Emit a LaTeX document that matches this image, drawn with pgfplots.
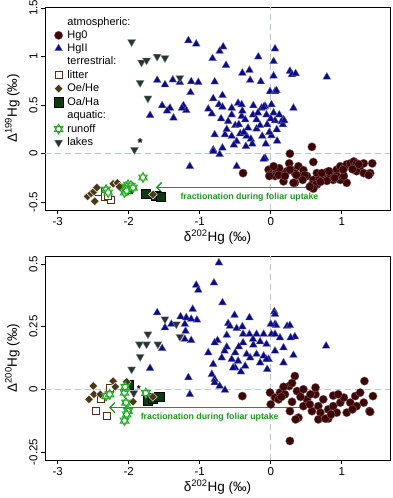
\documentclass[border=0pt]{standalone}
\usepackage{pgfplots}
\pgfplotsset{compat=1.18}
\usepackage{fontspec}
\setmainfont{Liberation Sans}
\usetikzlibrary{arrows.meta}
\definecolor{hgzero}{HTML}{3E0606}
\definecolor{hgtwo}{HTML}{0A0A8C}
\definecolor{lakec}{HTML}{263434}
\definecolor{oehe}{HTML}{4A3915}
\definecolor{oaha}{HTML}{0E3A12}
\definecolor{litterc}{HTML}{5A2C1A}
\definecolor{runc}{HTML}{1FAA1F}
\definecolor{arrc}{HTML}{1A9A1A}
\definecolor{dashc}{HTML}{B4C8D6}
\pgfdeclareplotmark{hexagram}{%
  \pgfpathmoveto{\pgfqpointpolar{90}{\pgfplotmarksize}}%
  \pgfpathlineto{\pgfqpointpolar{210}{\pgfplotmarksize}}%
  \pgfpathlineto{\pgfqpointpolar{330}{\pgfplotmarksize}}%
  \pgfpathclose
  \pgfpathmoveto{\pgfqpointpolar{270}{\pgfplotmarksize}}%
  \pgfpathlineto{\pgfqpointpolar{30}{\pgfplotmarksize}}%
  \pgfpathlineto{\pgfqpointpolar{150}{\pgfplotmarksize}}%
  \pgfpathclose
  \pgfusepathqfillstroke}

\pgfplotsset{
  myleg/.style={legend image code/.code={\path[draw=none,fill=none] (0cm,0cm) -- (0.46cm,0cm); \draw[mark repeat=2,mark phase=2,##1] plot coordinates {(0.12cm,0cm) (0.22cm,0cm) (0.32cm,0cm)};}},
  hgzs/.style={only marks, myleg, mark=*, mark size=4.2pt, mark options={fill=hgzero, draw=hgzero!60!white, line width=0.3pt}},
  hgts/.style={only marks, myleg, mark=triangle*, mark size=4.5pt, mark options={fill=hgtwo, draw=hgtwo!60!white, line width=0.3pt}},
  lakes/.style={only marks, myleg, mark=triangle*, mark size=4.7pt, mark options={rotate=180, fill=lakec, draw=lakec!50!white, line width=0.3pt}},
  litters/.style={only marks, myleg, mark=square*, mark size=3.6pt, mark options={fill=white, draw=litterc, line width=0.9pt}},
  oehes/.style={only marks, myleg, mark=square*, mark size=3.1pt, mark options={rotate=45, fill=oehe, draw=white, line width=0.4pt}},
  oahas/.style={only marks, myleg, mark=square*, mark size=4.6pt, mark options={fill=oaha, draw=black, line width=0.4pt}},
  runs/.style={only marks, myleg, mark=hexagram, mark size=5pt, mark options={fill=white, draw=runc, line width=0.9pt}},
  myaxis/.style={
    scale only axis, width=345pt,
    xmin=-3.18, xmax=1.68,
    xtick={-3,-2,-1,0,1},
    tick align=outside, xtick pos=bottom, ytick pos=left,
    major tick length=4pt,
    tick style={black, line width=0.6pt},
    axis line style={black, line width=0.9pt},
    /pgf/number format/assume math mode=true,
    ticklabel style={font=\fontsize{11.5}{13}\selectfont},
    yticklabel style={rotate=90, anchor=south},
    label style={font=\fontsize{13.5}{15}\selectfont},
    xlabel={δ\textsuperscript{202}Hg (‰)},
    xlabel style={at={(axis description cs:0.5,-0.08)}, anchor=north},
    ylabel style={at={(axis description cs:-0.063,0.5)}, anchor=south},
    clip=true,
  },
}

\begin{document}
\begin{tikzpicture}
\begin{axis}[myaxis, name=top, anchor=north west, at={(0pt,0pt)},
  height=203pt, ymin=-0.58, ymax=1.51,
  ytick={-0.5,0,0.5,1,1.5},
  ylabel={Δ\textsuperscript{199}Hg (‰)},
  legend cell align=left,
  legend style={draw=none, fill=none, at={(0.012,0.97)}, anchor=north west,
    font=\fontsize{11}{12}\selectfont, row sep=0pt},
]
\draw[dashc, dashed, dash pattern=on 6pt off 4pt, line width=0.9pt] (axis cs:0,-0.58) -- (axis cs:0,1.51);
\draw[dashc, dashed, dash pattern=on 6pt off 4pt, line width=0.9pt] (axis cs:-3.18,0) -- (axis cs:1.68,0);

\addplot[hgzs, forget plot] coordinates {
(-0.39,-0.20) (0.27,0.0) (0.58,0.07) (0.60,-0.086) (0.26,-0.10) (-0.03,-0.165)
(-0.01,-0.216) (0.085,-0.18) (0.155,-0.20) (0.23,-0.18) (0.30,-0.17) (0.39,-0.13)
(0.46,-0.17) (0.41,-0.23) (0.34,-0.30) (0.51,-0.23) (0.60,-0.27) (0.65,-0.20)
(0.68,-0.27) (0.74,-0.23) (0.79,-0.19) (0.84,-0.23) (0.88,-0.20) (0.93,-0.165)
(0.98,-0.13) (1.03,-0.15) (1.07,-0.11) (1.12,-0.10) (1.17,-0.08) (1.21,-0.10)
(1.26,-0.13) (1.31,-0.10) (1.43,-0.10) (1.21,-0.18) (1.31,-0.20) (1.40,-0.20)
(1.07,-0.30) (0.98,-0.27) (0.88,-0.27) (0.79,-0.28) (0.93,-0.23) (1.03,-0.23)
(0.65,-0.32) (0.58,-0.32) (0.12,-0.15) (0.34,-0.20) (0.06,-0.23) (0.27,-0.165)
(0.36,-0.22) (0.48,-0.22) (0.63,-0.32) (0.72,-0.20) (0.82,-0.18) (1.02,-0.165)
(1.24,-0.11) (1.38,-0.22) (0.70,-0.29) (0.32,-0.30) (0.04,-0.13) (-0.02,-0.23)
(0.18,-0.285) (0.11,-0.22) (0.20,-0.23) (0.60,-0.36) (0.55,-0.34) (0.90,-0.25)
(1.15,-0.16) (0.45,-0.27)
};
\addplot[hgts, forget plot] coordinates {
(-1.16,1.165) (-1.05,1.13) (-0.67,1.10) (-0.72,1.055) (-0.82,0.98) (-0.175,0.997)
(-0.63,0.91) (0.06,1.08) (0.04,0.95) (-0.40,0.83) (-0.30,0.86) (-0.29,0.756)
(-0.14,0.742) (-0.79,0.74) (-1.60,0.756) (-1.49,0.71) (-1.38,0.76) (-1.28,0.735)
(-1.12,0.742) (-1.02,0.735) (-1.13,0.63) (-0.81,0.567) (-0.68,0.60) (-1.53,0.495)
(-1.42,0.47) (-1.46,0.44) (-1.70,0.395) (-1.37,0.368) (-1.23,0.495) (-1.19,0.446)
(-1.25,0.47) (-0.88,0.46) (-0.83,0.41) (-0.73,0.505) (-0.68,0.48) (-0.55,0.47)
(-0.46,0.52) (-0.41,0.505) (-0.245,0.495) (-0.13,0.47) (-0.08,0.49) (-0.60,0.333)
(-0.50,0.29) (-0.41,0.385) (-0.36,0.35) (-0.32,0.265) (-0.20,0.255) (-0.15,0.29)
(-0.645,0.196) (-0.43,0.206) (-0.34,0.18) (-0.79,0.196) (-0.48,0.127) (-0.35,0.076)
(-0.07,0.10) (-0.81,0.04) (-0.72,-0.007) (-0.68,0.059) (-0.08,-0.045) (-1.14,-0.13)
(-0.48,-0.13) (0.04,0.80) (0.27,0.85) (0.30,0.815) (0.35,0.825) (0.79,0.79)
(-0.01,0.64) (0.06,0.64) (0.32,0.47) (0.01,0.505) (0.04,0.42) (-0.06,0.40)
(0.18,0.35) (0.15,0.33) (0.085,0.247) (0.17,0.30) (-0.10,0.48) (0.08,0.65)
(0.06,0.34) (0.19,0.34) (0.09,0.13) (0.01,0.186) (-0.10,-0.055) (-0.81,0.024)
(-0.55,0.40) (-0.45,0.30) (-0.25,0.40) (-0.20,0.35) (-0.38,0.22) (-0.28,0.15)
(-0.55,0.18) (-0.62,0.25) (-0.05,0.30) (0.0,0.36) (-0.12,0.18) (-0.52,0.09)
(-0.18,0.42) (-0.02,0.22) (-0.40,0.44) (-0.70,0.36) (-0.26,0.10) (0.12,0.40)
};
\addplot[lakes, forget plot] coordinates {
(-1.96,1.15) (-1.60,1.00) (-1.49,0.985) (-1.82,0.94) (-1.75,0.96) (-1.28,0.78)
(-1.84,0.73) (-1.73,0.57) (-1.92,0.04)
};
\addplot[litters, forget plot] coordinates {
(-2.43,-0.39) (-2.34,-0.44) (-2.25,-0.475) (-2.29,-0.43)
};
\addplot[oahas, forget plot] coordinates {
(-2.02,-0.36) (-1.76,-0.41) (-1.62,-0.43) (-1.55,-0.44)
};
\addplot[oehes, forget plot] coordinates {
(-2.58,-0.44) (-2.53,-0.41) (-2.49,-0.39) (-2.45,-0.35) (-2.48,-0.49) (-2.22,-0.31)
(-2.16,-0.30) (-2.13,-0.34) (-1.66,-0.42)
};
\addplot[runs, forget plot] coordinates {
(-2.32,-0.37) (-2.29,-0.40) (-2.06,-0.40) (-2.04,-0.34) (-2.01,-0.32) (-1.97,-0.33)
(-2.03,-0.38) (-1.94,-0.35) (-1.80,-0.245)
};
\node[font=\fontsize{13}{13}\selectfont\bfseries] at (axis cs:-1.84,0.11) {*};
\draw[arrc, line width=1.6pt, -{Straight Barb[length=5pt,width=10pt,line width=1.4pt]}] (axis cs:0.70,-0.347) -- (axis cs:-1.62,-0.347);
\node[text=arrc, font=\fontsize{8.8}{10}\selectfont\bfseries] at (axis cs:-0.30,-0.447) {fractionation during foliar uptake};

\addlegendimage{empty legend}\addlegendentry{atmospheric:}
\addlegendimage{hgzs}\addlegendentry{Hg0}
\addlegendimage{hgts}\addlegendentry{HgII}
\addlegendimage{empty legend}\addlegendentry{terrestrial:}
\addlegendimage{litters}\addlegendentry{litter}
\addlegendimage{oehes}\addlegendentry{Oe/He}
\addlegendimage{oahas}\addlegendentry{Oa/Ha}
\addlegendimage{empty legend}\addlegendentry{aquatic:}
\addlegendimage{runs}\addlegendentry{runoff}
\addlegendimage{lakes}\addlegendentry{lakes}
\end{axis}

\begin{axis}[myaxis, name=bot, anchor=north west, at={(0pt,-249pt)},
  height=204pt, ymin=-0.282, ymax=0.532,
  ytick={-0.25,0,0.25,0.5},
  ylabel={Δ\textsuperscript{200}Hg (‰)},
]
\draw[dashc, dashed, dash pattern=on 6pt off 4pt, line width=0.9pt] (axis cs:0,-0.282) -- (axis cs:0,0.532);
\draw[dashc, dashed, dash pattern=on 6pt off 4pt, line width=0.9pt] (axis cs:-3.18,0) -- (axis cs:1.68,0);

\addplot[hgzs] coordinates {
(0.34,0.053) (-0.40,-0.027) (1.32,0.033) (1.44,-0.027) (0.27,-0.206) (-0.01,-0.013)
(0.06,-0.033) (0.13,-0.013) (0.20,-0.02) (0.26,0.013) (0.37,-0.007) (0.46,0.0)
(0.63,-0.02) (0.51,-0.04) (0.46,-0.067) (0.27,-0.087) (0.39,-0.113) (0.58,-0.087)
(0.67,-0.067) (0.74,-0.04) (0.81,-0.08) (0.88,-0.067) (0.88,-0.025) (0.98,-0.053)
(1.03,-0.033) (1.12,-0.053) (1.19,-0.027) (1.26,-0.013) (1.31,-0.053) (1.39,-0.087)
(0.81,-0.117) (0.93,-0.093) (0.70,-0.093) (0.63,0.007) (0.11,-0.04) (0.56,-0.02)
(1.07,-0.093) (1.21,-0.067) (1.40,-0.09) (0.67,-0.12) (0.77,-0.117) (0.00,-0.06)
(0.15,-0.03) (0.30,-0.05) (0.42,-0.03) (0.55,-0.06) (0.95,-0.02) (1.15,-0.08)
(0.85,-0.10) (0.30,0.025) (0.18,0.01) (0.35,-0.12)
};
\addplot[hgts] coordinates {
(-0.73,0.505) (-0.80,0.425) (-1.05,0.416) (-1.02,0.396) (-0.68,0.346) (-1.10,0.32)
(-1.60,0.306) (-1.27,0.29) (-1.19,0.286) (-1.04,0.277) (-1.40,0.26) (-0.51,0.296)
(-0.30,0.286) (0.05,0.31) (0.06,0.30) (-0.60,0.263) (-1.49,0.246) (-0.575,0.252)
(-0.48,0.243) (0.06,0.26) (0.23,0.252) (-1.20,0.232) (-0.62,0.216) (-0.39,0.22)
(-0.30,0.22) (-0.20,0.22) (-0.10,0.22) (0.01,0.22) (0.06,0.22) (0.13,0.206)
(-1.21,0.20) (-1.12,0.195) (-0.75,0.195) (-0.62,0.169) (-0.39,0.186) (-0.245,0.177)
(-0.06,0.18) (0.18,0.166) (-0.79,0.186) (-1.53,0.163) (-0.88,0.146) (-0.65,0.153)
(-0.50,0.146) (-0.34,0.14) (-0.20,0.14) (-0.69,0.126) (-0.46,0.113) (-0.29,0.126)
(-0.10,0.133) (-0.03,0.12) (0.18,0.106) (-0.81,0.10) (-0.50,0.086) (-0.36,0.093)
(-1.70,0.084) (-1.16,0.047) (-0.83,0.06) (-0.79,0.04) (0.27,0.255) (0.34,0.21)
(0.28,0.206) (0.32,0.136) (0.78,0.173) (0.06,0.153) (0.075,0.255) (-0.06,0.12)
(-0.15,0.106) (-0.79,0.027) (-0.72,0.013) (-0.645,-0.003) (-0.53,0.086) (-1.14,-0.02)
(-0.25,0.20) (-0.45,0.17) (-0.15,0.19) (0.0,0.26) (-0.40,0.25) (-0.55,0.12)
(-0.42,0.07) (-0.05,0.08) (-1.12,0.28) (-1.21,0.26)
};
\addplot[lakes] coordinates {
(-1.49,0.28) (-1.33,0.26) (-1.28,0.21) (-1.73,0.22) (-1.75,0.18) (-1.85,0.18)
(-1.59,0.18) (-1.84,0.13) (-1.96,0.08) (-1.93,-0.015)
};
\addplot[litters] coordinates {
(-2.46,-0.087) (-2.31,-0.106) (-2.39,-0.037) (-2.27,0.007)
};
\addplot[oahas] coordinates {
(-2.00,0.02) (-1.73,-0.045) (-1.66,-0.035) (-1.57,-0.03)
};
\addplot[oehes] coordinates {
(-2.50,0.013) (-2.56,-0.04) (-2.49,-0.02) (-2.22,0.033) (-2.19,0.01) (-1.94,-0.05)
(-1.66,-0.03) (-2.03,0.03) (-2.40,-0.02)
};
\addplot[runs] coordinates {
(-2.32,-0.027) (-2.27,-0.02) (-2.06,-0.013) (-2.04,-0.053) (-2.01,-0.087) (-2.06,-0.125)
(-1.76,-0.015) (-2.05,0.01) (-2.03,-0.10)
};
\node[font=\fontsize{10}{10}\selectfont\bfseries] at (axis cs:-1.86,0.0) {*};
\draw[arrc, line width=1.6pt, -{Straight Barb[length=5pt,width=10pt,line width=1.4pt]}] (axis cs:0.70,-0.073) -- (axis cs:-2.28,-0.073);
\node[text=arrc, font=\fontsize{8.8}{10}\selectfont\bfseries] at (axis cs:-0.86,-0.112) {fractionation during foliar uptake};
\end{axis}
\pgfresetboundingbox
\path[use as bounding box] (-45pt,7pt) rectangle (347pt,-491pt);
\end{tikzpicture}
\end{document}
